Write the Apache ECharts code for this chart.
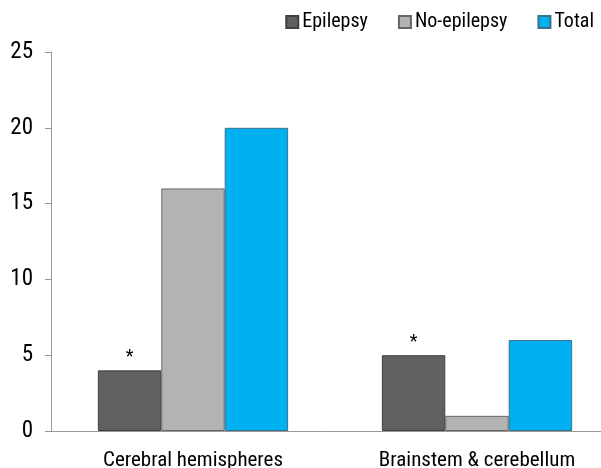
<!DOCTYPE html>
<html>
<head>
<meta charset="utf-8">
<script src="https://cdn.jsdelivr.net/npm/echarts@6/dist/echarts.min.js"></script>
<style>
  html, body { margin: 0; padding: 0; background: #fff; }
  #chart { width: 601px; height: 468px; }
</style>
</head>
<body>
<div id="chart"></div>
<script>
const categories = ["Cerebral hemispheres", "Brainstem & cerebellum"];
const epilepsy = [4, 5];
const noEpilepsy = [16, 1];
const total = [20, 6];
const marks = ["*", "*"];

const font = "'Liberation Sans Narrow', 'Roboto Condensed', Roboto, sans-serif";

const chart = echarts.init(document.getElementById("chart"));

chart.setOption({
    animation: false,
    textStyle: { fontFamily: font },
    legend: {
        top: 7,
        right: 2,
        icon: "rect",
        itemWidth: 12,
        itemHeight: 12,
        itemGap: 30,
        textStyle: { fontSize: 20, color: "#000", fontFamily: font, padding: [0, 0, 0, -1] },
        data: ["Epilepsy", "No-epilepsy", "Total"]
    },
    grid: { left: 51, width: 568, top: 52, bottom: 37, outerBoundsMode: "none", containLabel: false },
    xAxis: {
        type: "category",
        data: categories,
        axisLine: { lineStyle: { color: "#999" } },
        axisTick: { length: 6, lineStyle: { color: "#999" } },
        axisLabel: { fontSize: 21, color: "#000", margin: 19 }
    },
    yAxis: {
        type: "value",
        min: 0,
        max: 25,
        interval: 5,
        axisLine: { show: true, lineStyle: { color: "#999" } },
        axisTick: { show: true, length: 6, lineStyle: { color: "#999" } },
        splitLine: { show: false },
        axisLabel: { fontSize: 23, color: "#000", margin: 18 }
    },
    series: [
        {
            name: "Epilepsy",
            type: "bar",
            data: epilepsy,
            barGap: "0%",
            barCategoryGap: "33%",
            itemStyle: { color: "#606060", borderColor: "#404040", borderWidth: 1 },
            label: {
                show: true,
                position: "top",
                distance: 4,
                formatter: (p) => marks[p.dataIndex],
                fontSize: 18,
                color: "#000"
            }
        },
        {
            name: "No-epilepsy",
            type: "bar",
            data: noEpilepsy,
            itemStyle: { color: "#b3b3b3", borderColor: "#666", borderWidth: 1 }
        },
        {
            name: "Total",
            type: "bar",
            data: total,
            itemStyle: { color: "#00b0f0", borderColor: "#3d6f88", borderWidth: 1 }
        }
    ]
});
</script>
</body>
</html>
